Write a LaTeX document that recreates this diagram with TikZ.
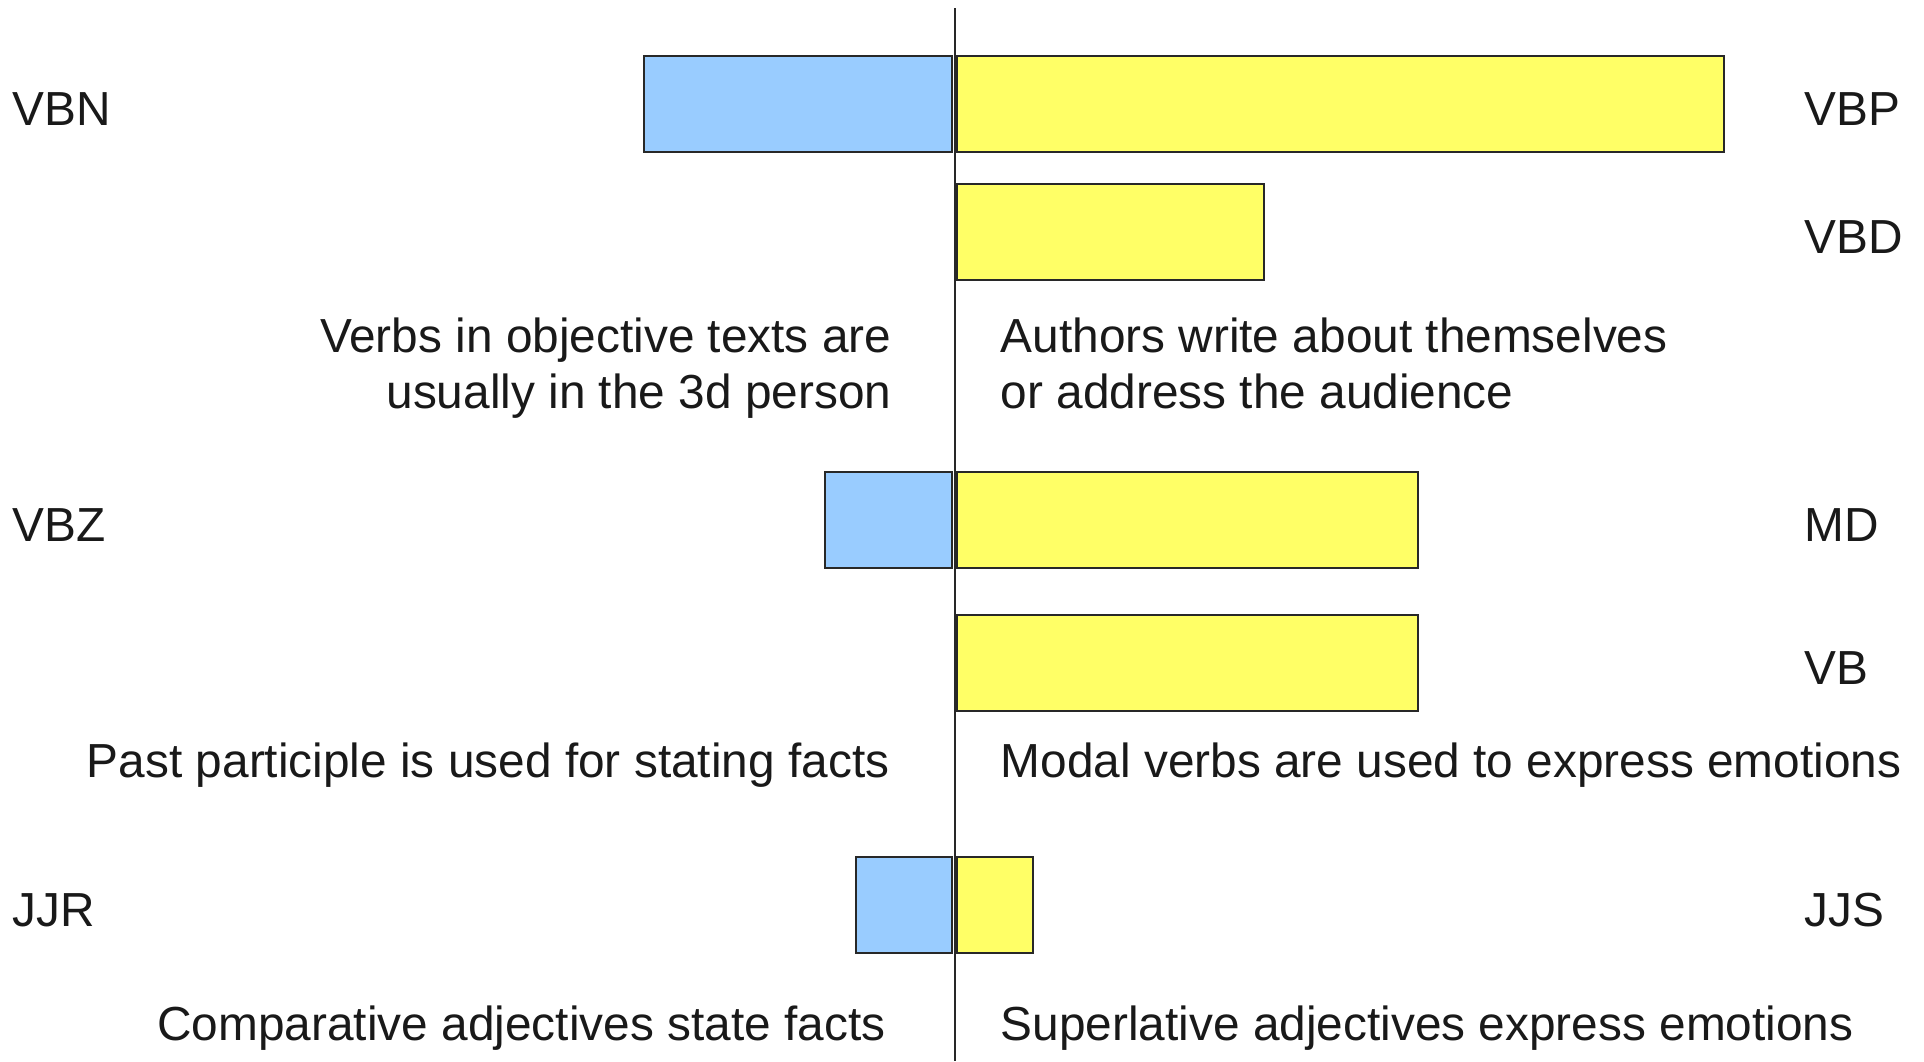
\documentclass[tikz,border=0pt]{standalone}
\usepackage{fontspec}
\setmainfont{Liberation Sans}
\usetikzlibrary{positioning}

\begin{document}
\begin{tikzpicture}[
    font=\fontsize{13.6pt}{15.65pt}\selectfont,
]

\definecolor{objColor}{RGB}{153, 204, 255}
\definecolor{subjColor}{RGB}{255, 255, 102}
\definecolor{edgeColor}{RGB}{40, 40, 40}

\tikzset{
    obj_bar/.style = {rectangle, inner sep=0pt, minimum height=0.96cm, anchor=east,
                      draw=edgeColor, line width=0.45pt, fill=objColor},
    subj_bar/.style = {rectangle, inner sep=0pt, minimum height=0.96cm, anchor=west,
                       draw=edgeColor, line width=0.45pt, fill=subjColor},
    tag_left/.style = {inner sep=0pt, anchor=base west, text=black!90},
    tag_right/.style = {inner sep=0pt, anchor=base west, text=black!90},
    note_left/.style = {inner sep=0pt, anchor=base east, align=right, text=black!90},
    note_right/.style = {inner sep=0pt, anchor=base west, align=left, text=black!90},
    axis_line/.style = {draw=edgeColor, line width=0.45pt}
}

\useasboundingbox (0,0) rectangle (19.24,10.61);

% =========== VERB TENSE ===========
\node[obj_bar, minimum width=3.08cm] (vbn_bar) at (9.53, 9.57) {};
\node[subj_bar, minimum width=7.67cm] (vbp_bar) at (9.56, 9.57) {};
\node[subj_bar, minimum width=3.07cm] (vbd_bar) at (9.56, 8.29) {};

\node[tag_left] (vbn) at (0.12, 9.36) {VBN};
\node[tag_right] (vbp) at (18.04, 9.36) {VBP};
\node[tag_right] (vbd) at (18.04, 8.08) {VBD};

% base anchor sits on the last line here
\node[note_left] (note_person_obj) at (8.92, 6.53) {Verbs in objective texts are\\usually in the 3d person};
\node[note_right] (note_person_subj) at (10.00, 6.53) {Authors write about themselves\\or address the audience};

% =========== MODALS ===========
\node[obj_bar, minimum width=1.27cm] (vbz_bar) at (9.53, 5.41) {};
\node[subj_bar, minimum width=4.61cm] (md_bar) at (9.56, 5.41) {};
\node[subj_bar, minimum width=4.61cm] (vb_bar) at (9.56, 3.98) {};

\node[tag_left] (vbz) at (0.12, 5.20) {VBZ};
\node[tag_right] (md) at (18.04, 5.20) {MD};
\node[tag_right] (vb) at (18.04, 3.77) {VB};

\node[note_left] (note_modal_obj) at (8.90, 2.84) {Past participle is used for stating facts};
\node[note_right] (note_modal_subj) at (10.00, 2.84) {Modal verbs are used to express emotions};

% =========== ADJECTIVES ===========
\node[obj_bar, minimum width=0.96cm] (jjr_bar) at (9.53, 1.56) {};
\node[subj_bar, minimum width=0.76cm] (jjs_bar) at (9.56, 1.56) {};

\node[tag_left] (jjr) at (0.12, 1.35) {JJR};
\node[tag_right] (jjs) at (18.04, 1.35) {JJS};

\node[note_left] (note_adj_obj) at (8.86, 0.21) {Comparative adjectives state facts};
\node[note_right] (note_adj_subj) at (10.00, 0.21) {Superlative adjectives express emotions};

% Center axis
\coordinate (axis_top) at (9.55, 10.53);
\coordinate (axis_bottom) at (9.55, 0);
\draw[axis_line] (axis_top) -- (axis_bottom);

\end{tikzpicture}
\end{document}
